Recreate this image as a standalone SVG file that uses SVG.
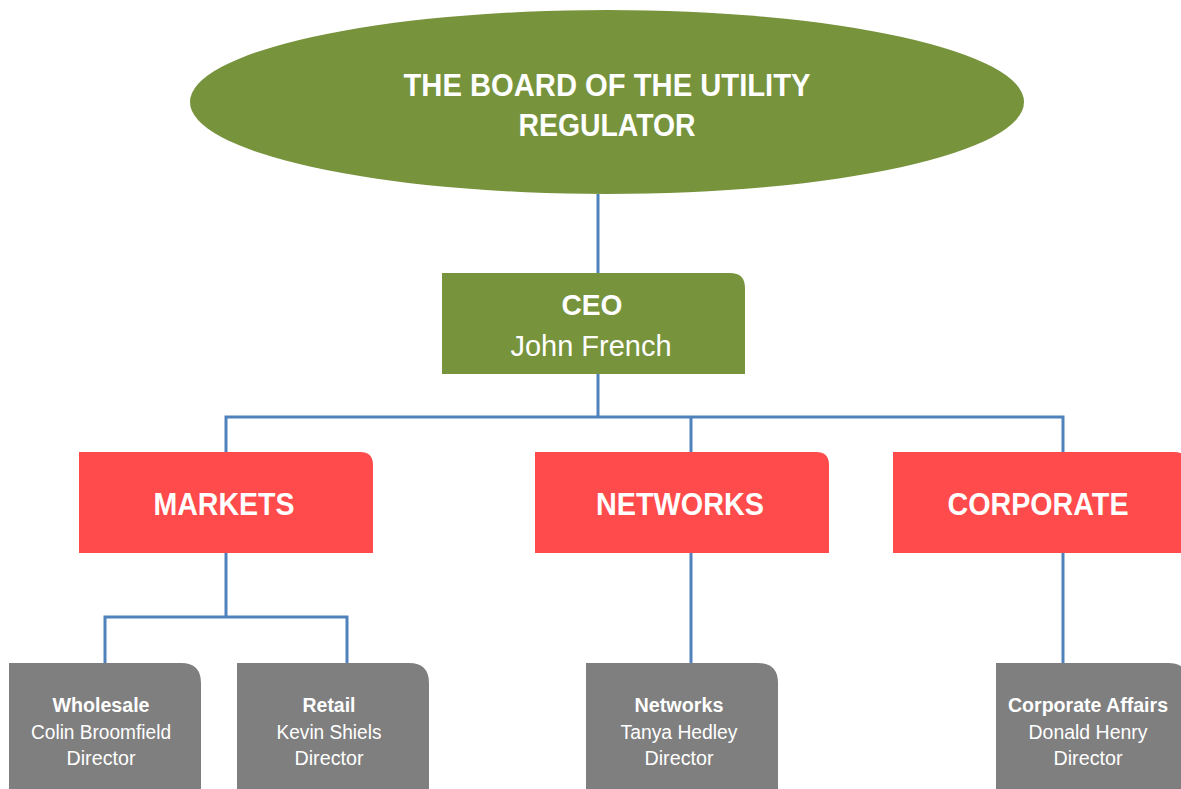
<svg xmlns="http://www.w3.org/2000/svg" width="1181" height="789" viewBox="0 0 1181 789">
<style>
  text { font-family: "Liberation Sans", Arial, sans-serif; fill: #ffffff; text-anchor: middle; }
  .b { font-weight: bold; }
  .title { font-size: 32px; font-weight: bold; }
  .ceo { font-size: 30px; }
  .dept { font-size: 31px; font-weight: bold; }
  .dir { font-size: 20px; }
  .conn { stroke: #4f81bd; stroke-width: 3; fill: none; }
  .green { fill: #77933c; }
  .red { fill: #ff4b4b; }
  .gray { fill: #7f7f7f; }
</style>
<rect width="1181" height="789" fill="#ffffff"/>
<g id="connectors">
  <path class="conn" d="M598 194 V273"/>
  <path class="conn" d="M598 374 V417"/>
  <path class="conn" d="M226 452 V417 H1063 V452"/>
  <path class="conn" d="M691 417 V452"/>
  <path class="conn" d="M226 553 V617"/>
  <path class="conn" d="M105 663 V617 H347 V663"/>
  <path class="conn" d="M691 553 V663"/>
  <path class="conn" d="M1063 553 V663"/>
</g>
<g id="board">
  <ellipse class="green" cx="607" cy="102" rx="417" ry="92"/>
  <text class="title" x="607" y="96" textLength="407" lengthAdjust="spacingAndGlyphs">THE BOARD OF THE UTILITY</text>
  <text class="title" x="607" y="136" textLength="177" lengthAdjust="spacingAndGlyphs">REGULATOR</text>
</g>
<g id="ceo">
  <path class="green" d="M442 273 H730 Q745 273 745 288 V374 H442 Z"/>
  <text class="ceo b" x="592" y="315" textLength="61" lengthAdjust="spacingAndGlyphs">CEO</text>
  <text class="ceo" x="591" y="356" textLength="161" lengthAdjust="spacingAndGlyphs">John French</text>
</g>
<g id="markets">
  <path class="red" d="M79 452 H360 Q373 452 373 465 V553 H79 Z"/>
  <text class="dept" x="224" y="515" textLength="141" lengthAdjust="spacingAndGlyphs">MARKETS</text>
</g>
<g id="networks">
  <path class="red" d="M535 452 H816 Q829 452 829 465 V553 H535 Z"/>
  <text class="dept" x="680" y="515" textLength="168" lengthAdjust="spacingAndGlyphs">NETWORKS</text>
</g>
<g id="corporate">
  <path class="red" d="M893 452 H1174 Q1187 452 1187 465 V553 H893 Z"/>
  <text class="dept" x="1038" y="515" textLength="181" lengthAdjust="spacingAndGlyphs">CORPORATE</text>
</g>
<g id="wholesale">
  <path class="gray" d="M9 663 H181 Q201 663 201 683 V789 H9 Z"/>
  <text class="dir b" x="101" y="712" textLength="97" lengthAdjust="spacingAndGlyphs">Wholesale</text>
  <text class="dir" x="101" y="739" textLength="140" lengthAdjust="spacingAndGlyphs">Colin Broomfield</text>
  <text class="dir" x="101" y="765" textLength="69" lengthAdjust="spacingAndGlyphs">Director</text>
</g>
<g id="retail">
  <path class="gray" d="M237 663 H409 Q429 663 429 683 V789 H237 Z"/>
  <text class="dir b" x="329" y="712" textLength="53" lengthAdjust="spacingAndGlyphs">Retail</text>
  <text class="dir" x="329" y="739" textLength="105" lengthAdjust="spacingAndGlyphs">Kevin Shiels</text>
  <text class="dir" x="329" y="765" textLength="69" lengthAdjust="spacingAndGlyphs">Director</text>
</g>
<g id="networks-dir">
  <path class="gray" d="M586 663 H758 Q778 663 778 683 V789 H586 Z"/>
  <text class="dir b" x="679" y="712" textLength="89" lengthAdjust="spacingAndGlyphs">Networks</text>
  <text class="dir" x="679" y="739" textLength="117" lengthAdjust="spacingAndGlyphs">Tanya Hedley</text>
  <text class="dir" x="679" y="765" textLength="69" lengthAdjust="spacingAndGlyphs">Director</text>
</g>
<g id="corporate-affairs">
  <path class="gray" d="M996 663 H1168 Q1188 663 1188 683 V789 H996 Z"/>
  <text class="dir b" x="1088" y="712" textLength="160" lengthAdjust="spacingAndGlyphs">Corporate Affairs</text>
  <text class="dir" x="1088" y="739" textLength="119" lengthAdjust="spacingAndGlyphs">Donald Henry</text>
  <text class="dir" x="1088" y="765" textLength="69" lengthAdjust="spacingAndGlyphs">Director</text>
</g>
</svg>
